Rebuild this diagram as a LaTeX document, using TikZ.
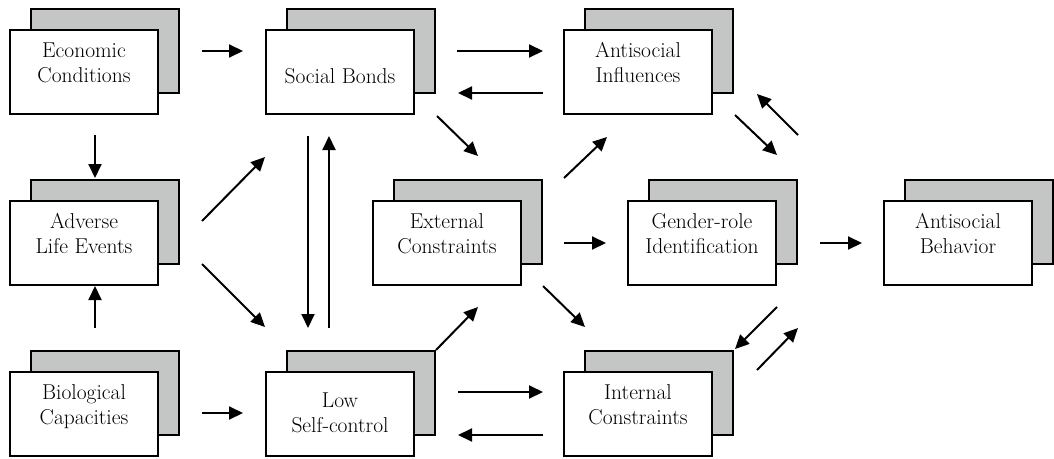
\documentclass[tikz,border=0pt]{standalone}
\usepackage{fontspec}
\usetikzlibrary{arrows.meta}
\definecolor{shadowgray}{RGB}{196,198,197}
\newcommand\boxlines[2]{\begin{tabular}[t]{@{}c@{}}#1\\#2\end{tabular}}
\newcommand\diagbox[3]{%
  \node[backbox] (#1S) at (#2+21,#3-21) {};
  \node[frontbox] (#1) at (#2,#3) {};}
\begin{document}
\begin{tikzpicture}[x=1pt,y=-1pt,
  frontbox/.style={draw=black,line width=2pt,fill=white,minimum width=148pt,minimum height=84pt,inner sep=0pt,outer sep=0pt},
  backbox/.style={frontbox,fill=shadowgray},
  boxtext/.style={inner sep=0pt,anchor=base,font=\fontsize{21.5}{25}\selectfont},
  arr/.style={line width=2pt,-{Triangle[length=14pt,width=13pt]}}]
\useasboundingbox (0,0) rectangle (1054,458);

% boxes
\diagbox{econ}{84}{72}
\diagbox{adverse}{84}{243}
\diagbox{bio}{84}{414}
\diagbox{social}{340}{72}
\diagbox{low}{340}{414}
\diagbox{external}{447}{243}
\diagbox{antiinf}{638}{72}
\diagbox{internal}{638}{414}
\diagbox{gender}{702}{243}
\diagbox{behavior}{958}{243}

% texts
\node[boxtext] (econT) at (84,57.5) {\boxlines{Economic}{Conditions}};
\node[boxtext] (adverseT) at (84,228.5) {\boxlines{Adverse}{Life Events}};
\node[boxtext] (bioT) at (84,399.5) {\boxlines{Biological}{Capacities}};
\node[boxtext] (socialT) at (340,83) {Social Bonds};
\node[boxtext] (lowT) at (340,407) {\boxlines{Low}{Self-control}};
\node[boxtext] (externalT) at (447,228.5) {\boxlines{External}{Constraints}};
\node[boxtext] (antiinfT) at (638,57.5) {\boxlines{Antisocial}{Influences}};
\node[boxtext] (internalT) at (638,399.5) {\boxlines{Internal}{Constraints}};
\node[boxtext] (genderT) at (702,228.5) {\boxlines{Gender-role}{Identification}};
\node[boxtext] (behaviorT) at (958,228.5) {\boxlines{Antisocial}{Behavior}};

% free arrow ends
\foreach \n/\x/\y in {
  a1s/202/51, a1e/243/51,
  a2s/457/51, a2e/543/51,
  a3s/543/93, a3e/458/93,
  a4s/437/116, a4e/478/156,
  a5s/564/178, a5e/607/137,
  a6s/735/115, a6e/777/155,
  a7s/798/135, a7e/757/94,
  a8s/564/243, a8e/606/243,
  a9s/820/243, a9e/862/243,
  a10s/543/286, a10e/585/327,
  a11s/777/307, a11e/735/349,
  a12s/757/370, a12e/798/328,
  a13s/458/392, a13e/543/392,
  a14s/543/435, a14e/458/435,
  a15s/436/350, a15e/478/307,
  a16s/95/135, a16e/95/178,
  a17s/95/328, a17e/95/286,
  a18s/202/221, a18e/265/157,
  a19s/202/264, a19e/265/327,
  a20s/202/413, a20e/243/413,
  a21s/308/136, a21e/308/328,
  a22s/329/328, a22e/329/136}
  \coordinate (\n) at (\x,\y);

\foreach \i in {1,...,22}
  \draw[arr] (a\i s) -- (a\i e);
\end{tikzpicture}
\end{document}
